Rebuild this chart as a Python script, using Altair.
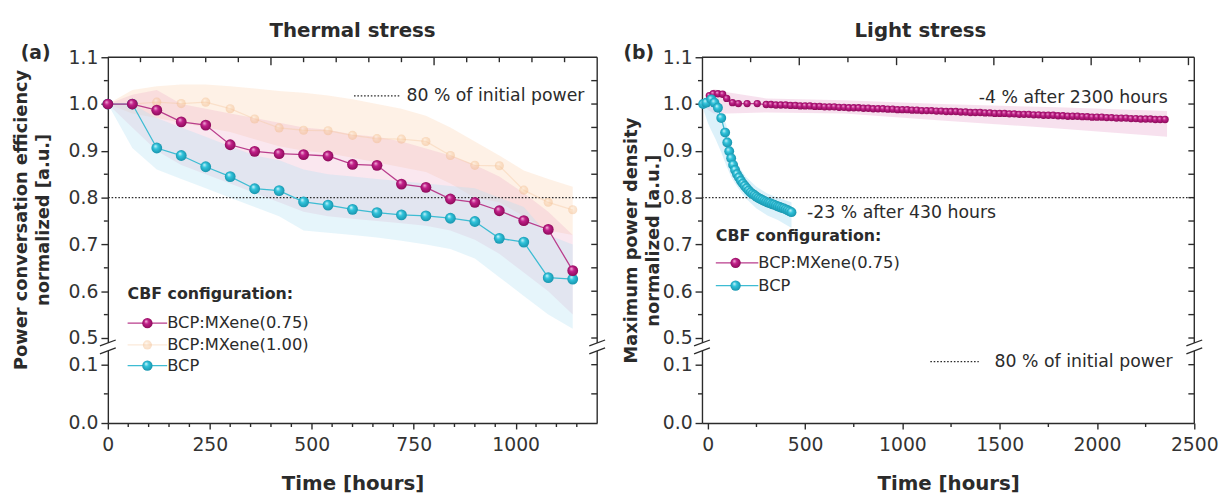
import altair as alt
import pandas as pd

FONT = "DejaVu Sans"
INK = "#2b2b2b"

# ---------------- Panel (a): thermal stress ----------------
times_a = [0, 60, 120, 180, 240, 300, 360, 420, 480, 540, 600, 660, 720, 780, 840, 900, 960, 1020, 1080, 1140]
mx075_a = [1.000, 1.000, 0.987, 0.962, 0.955, 0.913, 0.899, 0.894, 0.892, 0.889, 0.871, 0.869, 0.829, 0.822, 0.797, 0.790, 0.772, 0.751, 0.732, 0.644]
mx100_a = [1.000, 1.000, 1.004, 1.001, 1.004, 0.990, 0.968, 0.949, 0.944, 0.943, 0.933, 0.926, 0.925, 0.920, 0.890, 0.869, 0.868, 0.816, 0.790, 0.774]
bcp_a = [1.000, 1.000, 0.906, 0.890, 0.866, 0.845, 0.819, 0.815, 0.791, 0.784, 0.775, 0.768, 0.763, 0.761, 0.756, 0.749, 0.713, 0.705, 0.629, 0.626]
mx075_a_hi = [1.000, 1.020, 1.030, 1.000, 0.990, 0.980, 0.970, 0.960, 0.950, 0.945, 0.935, 0.930, 0.920, 0.905, 0.890, 0.870, 0.845, 0.810, 0.770, 0.720]
mx075_a_lo = [1.000, 0.950, 0.900, 0.870, 0.850, 0.830, 0.810, 0.790, 0.770, 0.760, 0.755, 0.750, 0.745, 0.740, 0.730, 0.710, 0.680, 0.640, 0.600, 0.550]
mx100_a_hi = [1.000, 1.030, 1.038, 1.042, 1.042, 1.038, 1.033, 1.028, 1.024, 1.018, 1.010, 1.000, 0.990, 0.975, 0.950, 0.920, 0.890, 0.858, 0.840, 0.823]
mx100_a_lo = [1.000, 0.980, 0.970, 0.960, 0.950, 0.940, 0.925, 0.910, 0.900, 0.895, 0.885, 0.875, 0.865, 0.855, 0.830, 0.800, 0.790, 0.760, 0.730, 0.720]
bcp_a_hi = [1.000, 1.000, 0.970, 0.950, 0.930, 0.910, 0.890, 0.880, 0.860, 0.850, 0.845, 0.840, 0.835, 0.830, 0.825, 0.820, 0.800, 0.780, 0.720, 0.700]
bcp_a_lo = [1.000, 0.906, 0.860, 0.840, 0.820, 0.800, 0.780, 0.760, 0.730, 0.725, 0.720, 0.715, 0.708, 0.700, 0.690, 0.670, 0.630, 0.590, 0.550, 0.520]

# ---------------- Panel (b): light stress ----------------
times_b_mx = [-8, 8, 28, 52, 76, 97, 127, 157, 202, 254,
              300, 325, 350, 375, 400, 425, 450, 475, 500, 525, 550, 575, 600, 625, 650, 675, 700, 725,
              750, 775, 800, 825, 850, 875, 900, 925, 950, 975, 1000, 1025, 1050, 1075, 1100, 1125,
              1150, 1175, 1200, 1225, 1250, 1275, 1300, 1325, 1350, 1375, 1400, 1425, 1450, 1475,
              1500, 1525, 1550, 1575, 1600, 1625, 1650, 1675, 1700, 1725, 1750, 1775, 1800, 1825,
              1850, 1875, 1900, 1925, 1950, 1975, 2000, 2025, 2050, 2075, 2100, 2125, 2150, 2175,
              2200, 2225, 2250, 2275, 2300, 2325, 2350]
mx075_b = [1.003, 1.018, 1.022, 1.022, 1.021, 1.012, 1.003, 1.001, 1.001, 1.001,
           0.999, 0.999, 0.998, 0.998, 0.998, 0.997, 0.997, 0.996, 0.996, 0.996, 0.995, 0.995, 0.994, 0.994, 0.994, 0.993, 0.993, 0.992,
           0.992, 0.992, 0.991, 0.991, 0.990, 0.990, 0.990, 0.989, 0.989, 0.988, 0.988, 0.988, 0.987, 0.987, 0.986, 0.986,
           0.986, 0.985, 0.985, 0.984, 0.984, 0.984, 0.983, 0.983, 0.982, 0.982, 0.982, 0.981, 0.981, 0.980,
           0.980, 0.980, 0.979, 0.979, 0.978, 0.978, 0.978, 0.977, 0.977, 0.976, 0.976, 0.976, 0.975, 0.975,
           0.974, 0.974, 0.974, 0.973, 0.973, 0.972, 0.972, 0.972, 0.971, 0.971, 0.970, 0.970, 0.970, 0.969,
           0.969, 0.968, 0.968, 0.968, 0.967, 0.967, 0.967]
times_b_bcp = [-24, -8, 18, 34, 52, 69, 89, 100, 110, 120, 130, 140, 150, 160, 170, 180, 190, 200,
               210, 220, 230, 240, 250, 260, 270, 280, 290, 300, 310, 320, 330, 340, 350, 360,
               370, 380, 390, 400, 410, 420, 430]
bcp_b = [1.000, 1.003, 1.010, 1.003, 0.992, 0.970, 0.939, 0.918, 0.899, 0.884, 0.870, 0.859, 0.850, 0.843, 0.836, 0.830, 0.825, 0.820,
         0.815, 0.811, 0.808, 0.805, 0.802, 0.799, 0.797, 0.795, 0.793, 0.791, 0.789, 0.788, 0.786, 0.785, 0.783, 0.781,
         0.780, 0.778, 0.777, 0.775, 0.773, 0.771, 0.769]
band_b_mx_t = [-8, 30, 100, 300, 700, 1200, 1800, 2360]
band_b_mx_hi = [1.015, 1.032, 1.025, 1.012, 1.008, 1.000, 0.993, 0.985]
band_b_mx_lo = [0.990, 0.980, 0.980, 0.982, 0.980, 0.965, 0.948, 0.930]
band_b_bcp_t = [-24, 0, 16, 40, 69, 94, 120, 128, 160, 196, 250, 306, 360, 430]
band_b_bcp_hi = [1.010, 1.012, 1.015, 1.005, 0.985, 0.957, 0.912, 0.897, 0.866, 0.844, 0.823, 0.809, 0.800, 0.790]
band_b_bcp_lo = [0.990, 0.960, 0.945, 0.925, 0.897, 0.870, 0.844, 0.838, 0.818, 0.798, 0.777, 0.762, 0.752, 0.735]

# ---------------- ticks ----------------
y_major = [0.0, 0.1, 0.5, 0.6, 0.7, 0.8, 0.9, 1.0, 1.1]
y_minor = [0.05, 0.55, 0.65, 0.75, 0.85, 0.95, 1.05]
y_right = [0.05, 0.1, 0.5, 0.55, 0.6, 0.65, 0.7, 0.75, 0.8, 0.85, 0.9, 0.95, 1.0, 1.05]
xa_major = [0, 250, 500, 750, 1000]
xa_minor = [50, 100, 150, 200, 300, 350, 400, 450, 550, 600, 650, 700, 800, 850, 900, 950, 1050, 1100, 1150]
xa_top_short = [80, 160, 240, 320, 480, 560, 640, 720, 880, 960, 1040, 1120]
xa_top_long = [400, 800]
xb_major = [0, 500, 1000, 1500, 2000, 2500]
xb_minor = [250, 750, 1250, 1750, 2250]
xb_top_short = [220, 720, 1220, 1720, 2220]
xb_top_long = [470, 970, 1470, 1970, 2470]

W_A, W_B, H = 495, 498, 370
BRK = 293
Y_DOMAIN = [0, 0.1305, 0.481, 1.1]

C_MX = "#B93D8C"
C_BCP = "#3DBCD3"
C_OR = "#F6C9A0"


def sphere(light, mid, dark):
    return {"gradient": "radial", "x1": 0.36, "y1": 0.3, "r1": 0.0,
            "x2": 0.5, "y2": 0.5, "r2": 0.55,
            "stops": [{"offset": 0, "color": light}, {"offset": 0.38, "color": mid},
                      {"offset": 1, "color": dark}]}


G_MX = sphere("#F6C4E2", "#C2208A", "#860854")
G_BCP = sphere("#E0F9FE", "#30C4DC", "#168FA8")
G_OR = sphere("#FFF3E6", "#F9D0A8", "#F0B27C")


def make_panel(width, xdom, xmaj, xminor, top_short, top_long, ytitle, ytpad, ytitle_y,
               xlabel_title):
    ys = alt.Scale(domain=Y_DOMAIN, range=[H, BRK, BRK, 0], nice=False, zero=False)
    yax_kw = dict(values=y_major, format=".1f", tickSize=7, tickWidth=1.4, tickColor=INK,
                  domainColor=INK, domainWidth=1.4, labelFont=FONT, labelFontSize=19,
                  labelColor="#333333", labelPadding=3, labelOverlap=False, grid=False,
                  title=ytitle, titleFont=FONT, titleFontSize=18, titleFontWeight="bold",
                  titleColor=INK, titlePadding=ytpad, titleLineHeight=22)
    if ytitle_y is not None:
        yax_kw["titleY"] = ytitle_y
    yax = alt.Axis(**yax_kw)
    xs = alt.Scale(domain=xdom, nice=False, zero=False)
    xax = alt.Axis(values=xmaj, tickSize=6, tickWidth=1.4, tickColor=INK, domainColor=INK,
                   domainWidth=1.4, labelFont=FONT, labelFontSize=19, labelColor="#333333",
                   labelPadding=7, labelFlush=False, grid=False, format="d",
                   title=xlabel_title, titleFont=FONT, titleFontSize=20,
                   titleFontWeight="bold", titleColor=INK, titlePadding=19)

    def X(f="t"):
        return alt.X(f"{f}:Q", scale=xs, axis=xax)

    def Y(f="v"):
        return alt.Y(f"{f}:Q", scale=ys, axis=yax)

    def band(t, lo, hi, color, op):
        df = pd.DataFrame({"t": t, "lo": lo, "hi": hi})
        return alt.Chart(df).mark_area(color=color, opacity=op, interpolate="linear").encode(
            x=X(), y=Y("lo"), y2=alt.Y2("hi:Q"))

    def series(t, v, line_color, grad, size, op=1.0, stroke="#00000000", lw=1.3, line_op=None):
        df = pd.DataFrame({"t": t, "v": v})
        base = alt.Chart(df)
        ln = base.mark_line(color=line_color, strokeWidth=lw,
                            opacity=op if line_op is None else line_op).encode(x=X(), y=Y())
        pt = base.mark_circle(size=size, fill=grad, opacity=op, stroke=stroke,
                              strokeWidth=0.4).encode(x=X(), y=Y())
        return ln, pt

    ref = alt.Chart(pd.DataFrame({"v": [0.8]})).mark_rule(
        color=INK, strokeDash=[1.6, 1.8], strokeWidth=1.3).encode(y=Y())

    deco = []
    deco.append(alt.Chart(pd.DataFrame({"v": y_minor})).mark_rule(color=INK, strokeWidth=1.4).encode(
        y=Y(), x=alt.value(0), x2=alt.value(-4)))
    deco.append(alt.Chart(pd.DataFrame({"v": y_right})).mark_rule(color=INK, strokeWidth=1.4).encode(
        y=Y(), x=alt.value(width), x2=alt.value(width - 6)))
    deco.append(alt.Chart(pd.DataFrame({"t": xminor})).mark_rule(color=INK, strokeWidth=1.4).encode(
        x=X(), y=alt.value(H), y2=alt.value(H + 4)))
    deco.append(alt.Chart(pd.DataFrame({"t": top_short})).mark_rule(color=INK, strokeWidth=1.4).encode(
        x=X(), y=alt.value(0), y2=alt.value(5)))
    deco.append(alt.Chart(pd.DataFrame({"t": top_long})).mark_rule(color=INK, strokeWidth=1.4).encode(
        x=X(), y=alt.value(0), y2=alt.value(8)))
    one = pd.DataFrame({"k": [0]})
    fr = alt.Chart(one).mark_rule(color=INK, strokeWidth=1.4)
    deco.append(fr.encode(x=alt.value(0), x2=alt.value(width), y=alt.value(0)))
    deco.append(fr.encode(x=alt.value(width), y=alt.value(0), y2=alt.value(BRK - 4)))
    deco.append(fr.encode(x=alt.value(width), y=alt.value(BRK + 4), y2=alt.value(H)))
    for xb in (0, width):
        deco.append(alt.Chart(one).mark_rect(color="white").encode(
            x=alt.value(xb - 3), x2=alt.value(xb + 3), y=alt.value(BRK - 4), y2=alt.value(BRK + 4)))
        for dy in (-4, 4):
            deco.append(alt.Chart(one).mark_rule(color=INK, strokeWidth=1.3).encode(
                x=alt.value(xb - 8), x2=alt.value(xb + 8),
                y=alt.value(BRK + dy + 3), y2=alt.value(BRK + dy - 3)))
    return X, Y, band, series, ref, deco, one


def text_at(one, txt, x, y, size=17.5, bold=False, align="left"):
    return alt.Chart(one).mark_text(text=txt, font=FONT, fontSize=size,
                                    fontWeight="bold" if bold else "normal", color=INK,
                                    align=align, baseline="middle").encode(
        x=alt.value(x), y=alt.value(y))


def legend_item(one, name, lcolor, grad, x0, x1, xc, y, op=1.0, size=110, line_op=None):
    ln = alt.Chart(one).mark_rule(color=lcolor, strokeWidth=1.3,
                                  opacity=op if line_op is None else line_op).encode(
        x=alt.value(x0), x2=alt.value(x1), y=alt.value(y))
    pt = alt.Chart(one).mark_circle(size=size, fill=grad, opacity=op).encode(
        x=alt.value(xc), y=alt.value(y))
    tx = alt.Chart(one).mark_text(text=name, font=FONT, fontSize=16.5, color=INK,
                                  align="left", baseline="middle").encode(
        x=alt.value(x1), y=alt.value(y))
    return [ln, pt, tx]


# ---------- build panel a ----------
X, Y, band, series, ref, deco, one = make_panel(
    W_A, [0, 1200], xa_major, xa_minor, xa_top_short, xa_top_long,
    ["Power conversation efficiency", "normalized [a.u.]"], 16, 164, "Time [hours]")
layers_a = [
    band(times_a, mx100_a_lo, mx100_a_hi, "#FBD6B4", 0.33),
    band(times_a, mx075_a_lo, mx075_a_hi, "#EDA9C4", 0.28),
    band(times_a, bcp_a_lo, bcp_a_hi, "#B2E1F4", 0.33),
    ref,
]
ln_or, pt_or = series(times_a, mx100_a, C_OR, G_OR, 85, op=0.45, line_op=0.4)
ln_b, pt_b = series(times_a, bcp_a, C_BCP, G_BCP, 120)
ln_m, pt_m = series(times_a, mx075_a, C_MX, G_MX, 120)
layers_a += [ln_or, pt_or, ln_b, pt_b, ln_m, pt_m]
layers_a += [
    alt.Chart(one).mark_rule(color=INK, strokeDash=[1.6, 1.8], strokeWidth=1.3).encode(
        x=alt.value(249), x2=alt.value(295), y=alt.value(39)),
    text_at(one, "80 % of initial power", 302, 39),
    text_at(one, "CBF configuration:", 20, 240, size=16, bold=True),
]
layers_a += legend_item(one, "BCP:MXene(0.75)", C_MX, G_MX, 20, 60, 40, 269)
layers_a += legend_item(one, "BCP:MXene(1.00)", C_OR, G_OR, 20, 60, 40, 291, op=0.45, size=85, line_op=0.4)
layers_a += legend_item(one, "BCP", C_BCP, G_BCP, 20, 60, 40, 312)
layers_a.append(text_at(one, "(a)", -73, -4, size=19, bold=True, align="center"))
layers_a += deco

panel_a = alt.layer(*layers_a).properties(
    width=W_A, height=H,
    title=alt.TitleParams("Thermal stress", font=FONT, fontSize=20, fontWeight="bold",
                          color=INK, anchor="middle", frame="group", offset=3))

# ---------- build panel b ----------
X, Y, band, series, ref, deco, one = make_panel(
    W_B, [-30, 2500], xb_major, xb_minor, xb_top_short, xb_top_long,
    ["Maximum power density", "normalized [a.u.]"], 0, None, "Time [hours]")
layers_b = [
    band(band_b_mx_t, band_b_mx_lo, band_b_mx_hi, "#E9B0D3", 0.38),
    band(band_b_bcp_t, band_b_bcp_lo, band_b_bcp_hi, "#B2E1F4", 0.45),
    ref,
]
ln_m, pt_m = series(times_b_mx, mx075_b, C_MX, G_MX, 55)
ln_b, pt_b = series(times_b_bcp, bcp_b, C_BCP, G_BCP, 100)
layers_b += [ln_m, pt_m, ln_b, pt_b]

ann = pd.DataFrame({"t": [2364, 510], "v": [1.0133, 0.766],
                    "label": ["-4 % after 2300 hours", "-23 % after 430 hours"],
                    "al": ["right", "left"]})
layers_b.append(alt.Chart(ann[ann.al == "right"]).mark_text(
    font=FONT, fontSize=17.5, color=INK, align="right", baseline="middle").encode(
    x=X(), y=Y(), text="label:N"))
layers_b.append(alt.Chart(ann[ann.al == "left"]).mark_text(
    font=FONT, fontSize=17.5, color=INK, align="left", baseline="middle").encode(
    x=X(), y=Y(), text="label:N"))
layers_b += [
    alt.Chart(one).mark_rule(color=INK, strokeDash=[1.6, 1.8], strokeWidth=1.3).encode(
        x=alt.value(231), x2=alt.value(280), y=alt.value(308)),
    text_at(one, "80 % of initial power", 296, 308),
    text_at(one, "CBF configuration:", 14, 181, size=16, bold=True),
]
layers_b += legend_item(one, "BCP:MXene(0.75)", C_MX, G_MX, 14, 57, 34, 208)
layers_b += legend_item(one, "BCP", C_BCP, G_BCP, 14, 57, 34, 231)
layers_b.append(text_at(one, "(b)", -64, -4, size=19, bold=True, align="center"))
layers_b += deco

panel_b = alt.layer(*layers_b).properties(
    width=W_B, height=H,
    title=alt.TitleParams("Light stress", font=FONT, fontSize=20, fontWeight="bold",
                          color=INK, anchor="middle", frame="bounds", offset=3))

chart = alt.hconcat(panel_a, panel_b, spacing=16).properties(
    padding={"left": 4, "top": 11, "right": 0, "bottom": 0},
    background="white",
).configure_view(stroke=None)

chart.save("out.html", embed_options={"renderer": "svg", "actions": False})
